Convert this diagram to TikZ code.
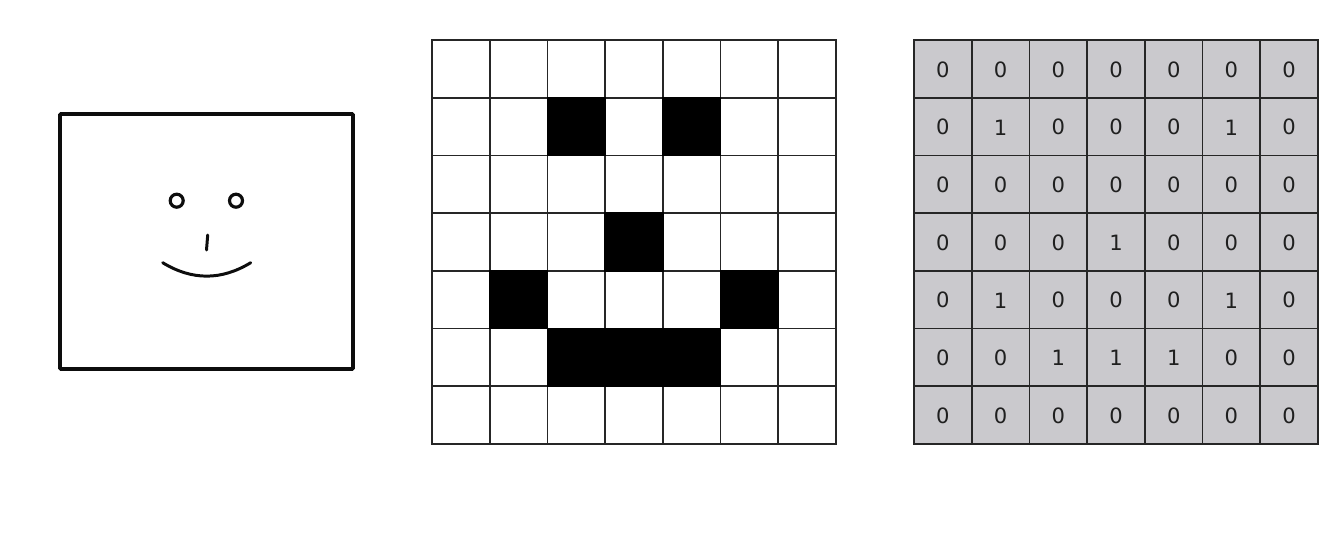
\documentclass[tikz,border=0pt]{standalone}
\usepackage{fontspec}
\setmainfont{DejaVu Sans}
\tikzstyle{frameBox}=[shape = rectangle, minimum width = 5.86cm, minimum height = 5.1cm, inner sep = 0pt, line width = 2.1pt, draw = black!95, rounded corners = 0.5pt]
\tikzstyle{eyeStyle}=[shape = circle, minimum size = 0.26cm, inner sep = 0pt, line width = 1.8pt, draw = black!95]
\tikzstyle{faceLine}=[line width = 1.7pt, line cap = round, black!95]
\tikzstyle{whiteCell}=[shape = rectangle, minimum size = 1.154cm, inner sep = 0pt, line width = 1pt, draw = black!85, fill = white]
\tikzstyle{blackCell}=[whiteCell, fill = black, draw = black]
\tikzstyle{grayCell}=[whiteCell, fill = cellGray, text = black!88, text height = 9.6pt, font = \fontsize{12}{13}\selectfont]
\definecolor{cellGray}{RGB}{202,201,205}
\begin{document}
\begin{tikzpicture}[x = 0.02cm, y = -0.02cm]
\useasboundingbox (0,0) rectangle (1342,544);
% photo side
\node[frameBox] (frame) at (206.5,241.5) {};
\node[eyeStyle] (eyeL) at (176.7,200.7) {};
\node[eyeStyle] (eyeR) at (236,200.7) {};
\coordinate (noseT) at (207.7,235);
\coordinate (noseB) at (206.5,250);
\coordinate (mouthL) at (162.7,262.7);
\coordinate (mouthA) at (192,280.6);
\coordinate (mouthB) at (221.4,280.6);
\coordinate (mouthR) at (250.7,262.7);
\draw[faceLine] (noseT) -- (noseB);
\draw[faceLine] (mouthL) .. controls (mouthA) and (mouthB) .. (mouthR);
% pixel grid
\foreach \r in {0,...,6}
  \foreach \c in {0,...,6}
    \node[whiteCell] (p\r\c) at ({460.9 + 57.7*\c},{68.9 + 57.7*\r}) {};
\foreach \r/\c in {1/2,1/4,3/3,4/1,4/5,5/2,5/3,5/4}
  \node[blackCell] (k\r\c) at (p\r\c) {};
% number grid
\foreach \r/\vals in {0/{0,0,0,0,0,0,0},
                      1/{0,1,0,0,0,1,0},
                      2/{0,0,0,0,0,0,0},
                      3/{0,0,0,1,0,0,0},
                      4/{0,1,0,0,0,1,0},
                      5/{0,0,1,1,1,0,0},
                      6/{0,0,0,0,0,0,0}}
  \foreach \v [count=\c from 0] in \vals
    \node[grayCell] (n\r\c) at ({942.9 + 57.7*\c},{68.9 + 57.7*\r}) {\v};
\end{tikzpicture}
\end{document}
